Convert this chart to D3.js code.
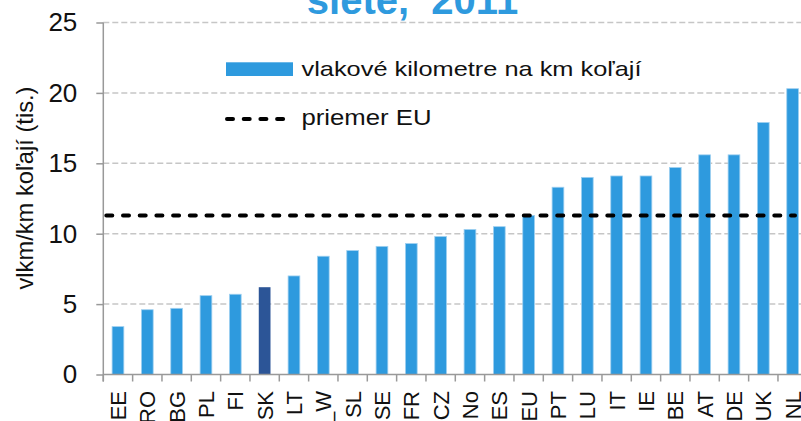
<!DOCTYPE html>
<html>
<head>
<meta charset="utf-8">
<script src="https://cdn.jsdelivr.net/npm/d3@7"></script>
<style>
  body { margin: 0; background: #fff; }
  text { font-family: "Liberation Sans", Arial, sans-serif; }
</style>
</head>
<body>
<div id="chart"></div>
<script>
// data
var countries = ["EE","RO","BG","PL","FI","SK","LT","_W","SL","SE","FR","CZ","No","ES","EU","PT","LU","IT","IE","BE","AT","DE","UK","NL"];
var values = [3.4,4.6,4.7,5.6,5.7,6.2,7.0,8.4,8.8,9.1,9.3,9.8,10.3,10.5,11.3,13.3,14.0,14.1,14.1,14.7,15.6,15.6,17.9,20.3];
var highlighted = ["SK"];
var euAverage = 11.3;
var yTicks = [0,5,10,15,20,25];

var width = 801, height = 421;
var margin = {top: 22.5, right: -6.3, bottom: 46.5, left: 103.3};

var blue = "#2e9ade", darkBlue = "#2c5597";

var svg = d3.select("#chart").append("svg")
    .attr("width", width)
    .attr("height", height);

var x = d3.scaleBand()
    .domain(countries)
    .range([margin.left, width - margin.right])
    .paddingInner(0.6)
    .paddingOuter(0.3);

var y = d3.scaleLinear()
    .domain([0, 25])
    .range([height - margin.bottom, margin.top]);

// title (only the last line shows)
svg.append("text")
    .attr("x", 412.5)
    .attr("y", 14)
    .attr("text-anchor", "middle")
    .attr("font-size", 40)
    .attr("font-weight", "bold")
    .attr("fill", blue)
    .style("white-space", "pre")
    .text("siete,  2011");

// grid lines
svg.append("g")
    .selectAll("line")
    .data(yTicks.filter(function(d) { return d > 0; }))
    .enter().append("line")
    .attr("x1", margin.left)
    .attr("x2", width)
    .attr("y1", function(d) { return y(d); })
    .attr("y2", function(d) { return y(d); })
    .attr("stroke", "#c6c6c6")
    .attr("stroke-width", 1.5)
    .attr("stroke-dasharray", "6,3");

// bars
svg.append("g")
    .selectAll("rect")
    .data(countries)
    .enter().append("rect")
    .attr("x", function(d) { return x(d); })
    .attr("width", x.bandwidth())
    .attr("y", function(d, i) { return y(values[i]); })
    .attr("height", function(d, i) { return y(0) - y(values[i]); })
    .attr("fill", function(d) { return highlighted.indexOf(d) >= 0 ? darkBlue : blue; })
    .attr("stroke", function(d) { return highlighted.indexOf(d) >= 0 ? "none" : "#9fd0f0"; })
    .attr("stroke-width", 0.8);

// EU average
svg.append("line")
    .attr("x1", margin.left + 3)
    .attr("x2", 795)
    .attr("y1", y(euAverage))
    .attr("y2", y(euAverage))
    .attr("stroke", "#000")
    .attr("stroke-width", 4)
    .attr("stroke-linecap", "round")
    .attr("stroke-dasharray", "6,10.7");

// y axis
var yAxis = svg.append("g")
    .attr("transform", "translate(" + margin.left + ",0)")
    .call(d3.axisLeft(y).tickValues(yTicks).tickSize(7).tickPadding(19));
yAxis.select(".domain").remove();
yAxis.selectAll("line").attr("stroke", "#999").attr("stroke-width", 1.5);
yAxis.selectAll("text")
    .attr("font-size", 26)
    .attr("font-family", "Liberation Sans, Arial, sans-serif")
    .attr("fill", "#111");
svg.append("line")
    .attr("x1", margin.left).attr("x2", margin.left)
    .attr("y1", margin.top).attr("y2", y(0) + 7)
    .attr("stroke", "#999").attr("stroke-width", 1.5);

// x axis with ticks between the bars
var step = x.step(), gap = step - x.bandwidth();
var bounds = countries.map(function(d) { return x(d) - gap / 2; });
bounds.push(x(countries[countries.length - 1]) + x.bandwidth() + gap / 2);

svg.append("line")
    .attr("x1", margin.left).attr("x2", width)
    .attr("y1", y(0)).attr("y2", y(0))
    .attr("stroke", "#999").attr("stroke-width", 1.5);
svg.append("g")
    .selectAll("line")
    .data(bounds)
    .enter().append("line")
    .attr("x1", function(d) { return d; })
    .attr("x2", function(d) { return d; })
    .attr("y1", y(0))
    .attr("y2", y(0) + 7)
    .attr("stroke", "#999").attr("stroke-width", 1.5);

svg.append("g")
    .selectAll("text")
    .data(countries)
    .enter().append("text")
    .attr("transform", function(d) {
        return "translate(" + (x(d) + x.bandwidth() / 2) + ",391) rotate(-90)";
    })
    .attr("text-anchor", "end")
    .attr("dy", "0.36em")
    .attr("font-size", 22)
    .attr("fill", "#111")
    .text(function(d) { return d; });

// y title
svg.append("text")
    .attr("transform", "translate(33,188) rotate(-90)")
    .attr("text-anchor", "middle")
    .attr("font-size", 24)
    .attr("textLength", 203)
    .attr("lengthAdjust", "spacingAndGlyphs")
    .attr("fill", "#111")
    .text("vlkm/km koľají (tis.)");

// legend
var legend = svg.append("g");
legend.append("rect")
    .attr("x", 226).attr("y", 62.3)
    .attr("width", 67).attr("height", 13.7)
    .attr("fill", blue);
legend.append("text")
    .attr("x", 301.5).attr("y", 76)
    .attr("font-size", 21)
    .attr("textLength", 340)
    .attr("lengthAdjust", "spacingAndGlyphs")
    .attr("fill", "#111")
    .text("vlakové kilometre na km koľají");
legend.append("line")
    .attr("x1", 227).attr("x2", 293)
    .attr("y1", 119).attr("y2", 119)
    .attr("stroke", "#000")
    .attr("stroke-width", 4)
    .attr("stroke-linecap", "round")
    .attr("stroke-dasharray", "6,10.7");
legend.append("text")
    .attr("x", 301.5).attr("y", 125)
    .attr("font-size", 22)
    .attr("textLength", 130)
    .attr("lengthAdjust", "spacingAndGlyphs")
    .attr("fill", "#111")
    .text("priemer EU");
</script>
</body>
</html>
